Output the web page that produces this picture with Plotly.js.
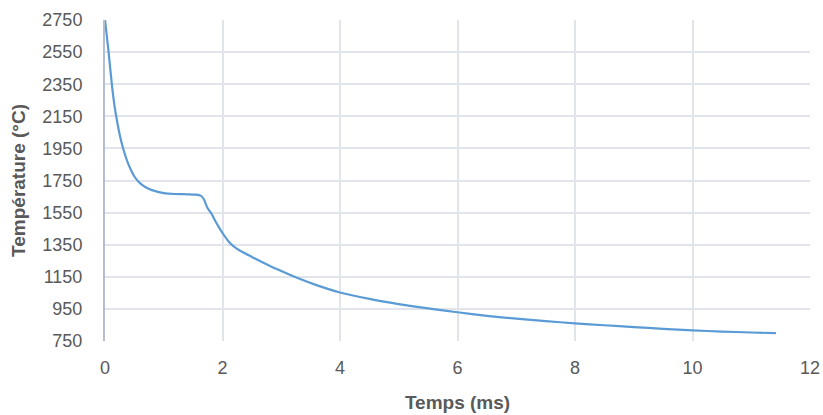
<!DOCTYPE html>
<html>
<head>
<meta charset="utf-8">
<script src="https://cdn.plot.ly/plotly-3.0.1.min.js"></script>
<style>html,body{margin:0;padding:0;background:#fff;}#chart{width:823px;height:415px;}</style>
</head>
<body>
<div id="chart"></div>
<script>
const timeMs = [0, 0.06, 0.116, 0.16, 0.21, 0.26, 0.31, 0.4, 0.5, 0.6, 0.7, 0.8, 0.9, 1.0, 1.2, 1.4, 1.55, 1.63, 1.68, 1.74, 1.81, 1.88, 1.95, 2.02, 2.1, 2.19, 2.3, 2.5, 2.8, 3.0, 3.3, 3.6, 4.0, 4.5, 5.0, 5.5, 6.0, 6.5, 7.0, 7.5, 8.0, 8.5, 9.0, 9.5, 10.0, 10.5, 11.0, 11.42];
const temperature = [2750, 2555, 2350, 2220, 2110, 2020, 1948, 1850, 1775, 1732, 1706, 1690, 1679, 1671, 1666, 1664, 1662, 1656, 1635, 1582, 1545, 1496, 1452, 1412, 1372, 1339, 1312, 1274, 1219, 1186, 1139, 1098, 1052, 1012, 980, 953, 929, 907, 889, 874, 860, 848, 837, 826, 816, 809, 803, 799];
const xTicks = [0, 2, 4, 6, 8, 10, 12];
const yTicks = [750, 950, 1150, 1350, 1550, 1750, 1950, 2150, 2350, 2550, 2750];

const fontFam = '"Liberation Sans Narrow", "Liberation Sans", Arial, sans-serif';
const textColor = '#595959';
const gridColor = '#e1e5eb';

Plotly.newPlot('chart', [{
  x: timeMs,
  y: temperature,
  type: 'scatter',
  mode: 'lines',
  line: {color: '#5b9bd5', width: 2.2, shape: 'spline', smoothing: 0.6},
  hoverinfo: 'skip'
}], {
  width: 823,
  height: 415,
  margin: {l: 105, r: 13, t: 20, b: 74},
  paper_bgcolor: '#ffffff',
  plot_bgcolor: '#ffffff',
  showlegend: false,
  font: {family: fontFam, color: textColor, size: 18},
  xaxis: {
    range: [0, 12],
    tickvals: xTicks,
    ticktext: xTicks.map(String),
    showgrid: true,
    gridcolor: gridColor,
    gridwidth: 2,
    zeroline: false,
    showline: false,
    ticks: '',
    ticklabelstandoff: 14,
    tickfont: {family: fontFam, size: 18, color: textColor},
    title: {text: '<b>Temps (ms)</b>', font: {family: fontFam, size: 19, color: textColor}, standoff: 18}
  },
  yaxis: {
    range: [750, 2750],
    tickvals: yTicks,
    ticktext: yTicks.map(String),
    showgrid: true,
    gridcolor: gridColor,
    gridwidth: 2,
    zeroline: false,
    showline: true,
    linecolor: '#b4c0d0',
    linewidth: 2,
    ticks: '',
    ticklabelstandoff: 17,
    tickfont: {family: fontFam, size: 18, color: textColor},
    title: {text: '<b>Température (°C)</b>', font: {family: fontFam, size: 19, color: textColor}, standoff: 12}
  }
}, {displayModeBar: false, staticPlot: true});
</script>
</body>
</html>
